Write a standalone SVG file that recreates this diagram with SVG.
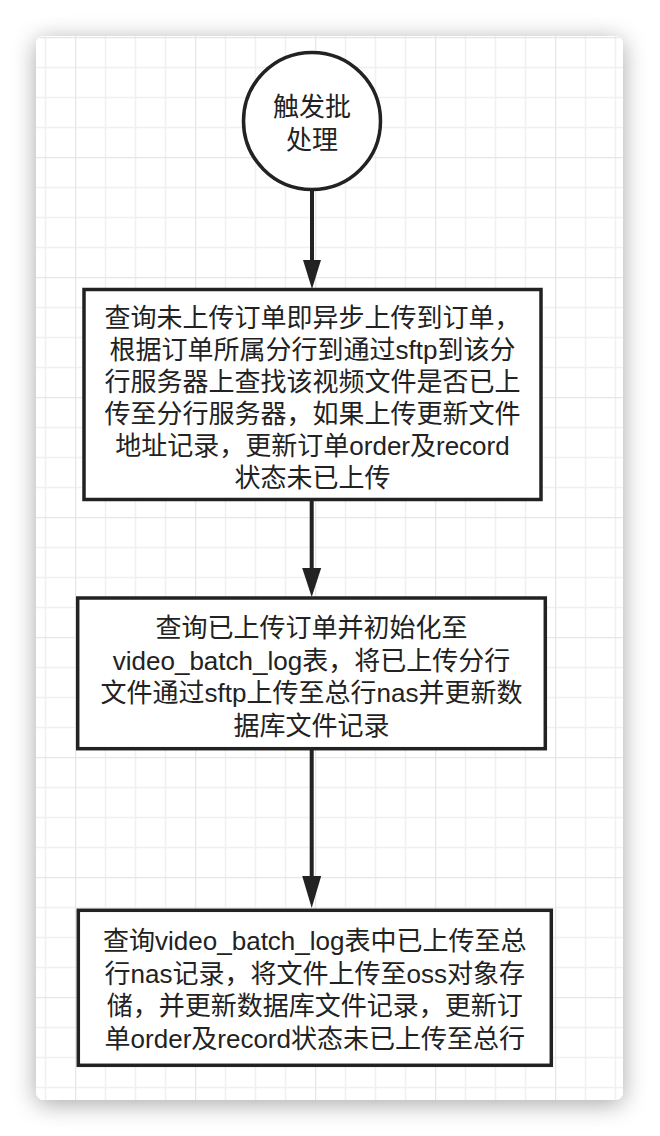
<svg xmlns="http://www.w3.org/2000/svg" width="660" height="1136" viewBox="0 0 660 1136">
<style>
.shape{fill:#ffffff;stroke:#222222;stroke-width:3.5}
.conn{stroke:#222222;stroke-width:4;fill:none}
.head{fill:#222222;stroke:none}
.lbl{font-family:"Liberation Sans","Noto Sans CJK SC",sans-serif;font-size:26px;fill:#222222;text-anchor:middle}
</style>
<defs>
<filter id="shadow" x="-20%" y="-10%" width="140%" height="120%">
<feGaussianBlur in="SourceAlpha" stdDeviation="12"/>
<feOffset dx="0" dy="4" result="b"/>
<feComponentTransfer><feFuncA type="linear" slope="0.35"/></feComponentTransfer>
<feMerge><feMergeNode/><feMergeNode in="SourceGraphic"/></feMerge>
</filter>
<pattern id="grid" patternUnits="userSpaceOnUse" x="75" y="37" width="120" height="120">
<path d="M30.5 0V120M60.5 0V120M90.5 0V120M0 30.5H120M0 60.5H120M0 90.5H120" stroke="#f0f0f0" stroke-width="1.5" fill="none"/>
<path d="M0.5 0V120M0 0.5H120" stroke="#e6e6e6" stroke-width="1.5" fill="none"/>
</pattern>
<clipPath id="cardclip"><rect x="36" y="36" width="587" height="1064" rx="8"/></clipPath>
</defs>
<rect width="660" height="1136" fill="#ffffff"/>
<rect x="36" y="36" width="587" height="1064" rx="8" fill="#ffffff" filter="url(#shadow)"/>
<rect x="36" y="36" width="587" height="1064" fill="url(#grid)" clip-path="url(#cardclip)"/>

<g id="connectors">
<line class="conn" x1="312" y1="191" x2="312" y2="262"/>
<polygon class="head" points="303,260 321,260 312,289"/>
<line class="conn" x1="311.7" y1="501" x2="311.7" y2="570"/>
<polygon class="head" points="302.2,568 321.2,568 311.7,597"/>
<line class="conn" x1="311.7" y1="750" x2="311.7" y2="878"/>
<polygon class="head" points="302.2,876 321.2,876 311.7,908"/>
</g>

<g id="start">
<circle class="shape" cx="312" cy="121" r="68.5"/>
<text class="lbl" x="312" y="116">触发批</text>
<text class="lbl" x="312" y="149">处理</text>
</g>

<g id="step1">
<rect class="shape" x="84" y="289.5" width="457" height="210"/>
<text class="lbl" x="312.5" y="327">查询未上传订单即异步上传到订单，</text>
<text class="lbl" x="312.5" y="359">根据订单所属分行到通过sftp到该分</text>
<text class="lbl" x="312.5" y="391">行服务器上查找该视频文件是否已上</text>
<text class="lbl" x="312.5" y="423">传至分行服务器，如果上传更新文件</text>
<text class="lbl" x="312.5" y="455">地址记录，更新订单order及record</text>
<text class="lbl" x="312.5" y="487">状态未已上传</text>
</g>

<g id="step2">
<rect class="shape" x="77.7" y="598" width="467.6" height="150.7"/>
<text class="lbl" x="311.5" y="637">查询已上传订单并初始化至</text>
<text class="lbl" x="311.5" y="670">video_batch_log表，将已上传分行</text>
<text class="lbl" x="311.5" y="702">文件通过sftp上传至总行nas并更新数</text>
<text class="lbl" x="311.5" y="735">据库文件记录</text>
</g>

<g id="step3">
<rect class="shape" x="78.3" y="910.3" width="473" height="155"/>
<text class="lbl" x="314.8" y="950">查询video_batch_log表中已上传至总</text>
<text class="lbl" x="314.8" y="983">行nas记录，将文件上传至oss对象存</text>
<text class="lbl" x="314.8" y="1015">储，并更新数据库文件记录，更新订</text>
<text class="lbl" x="314.8" y="1048">单order及record状态未已上传至总行</text>
</g>
</svg>
